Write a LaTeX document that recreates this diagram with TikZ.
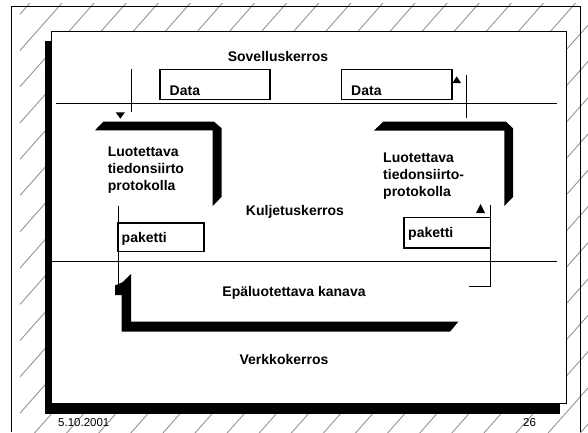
\documentclass[tikz,border=0pt]{standalone}
\usepackage{fontspec}
\setmainfont{Liberation Sans}
\tikzset{
  hatch/.style={draw=black!42, line width=0.9pt},
  rule/.style={line width=1pt},
  frameline/.style={line width=1pt},
  databox/.style={draw, line width=1.2pt},
  bar/.style={fill=black},
  tip/.style={fill=black},
  lbl/.style={font=\fontsize{14}{17}\selectfont\bfseries, inner sep=0pt},
  foot/.style={font=\fontsize{11.5}{13}\selectfont, inner sep=0pt}
}
\begin{document}
\begin{tikzpicture}[x=1pt,y=-1pt]
\useasboundingbox (0,0) rectangle (588,432);
% hatching of the background
\begin{scope}
  \clip (20,3) rectangle (588,432);
  \foreach \k in {-2,...,29}{
    \draw[hatch] ({61.7+32.1*\k+50},{3.3-56.5}) -- ++(-500,565);
  }
\end{scope}
% outer frame
\draw[frameline] (11,432) -- (11,6.7) -- (580,6.7) -- (580,432);
% shadow and slide box
\fill[black] (45,40.7) rectangle (51.7,413.5);
\fill[black] (45,403) rectangle (560,413.5);
\draw[rule, fill=white] (51.7,31.7) rectangle (566,403.3);
% layer separators
\draw[rule] (55.5,103.7) -- (557,103.7);
\draw[rule] (51.7,261.7) -- (557,261.7);
% data boxes
\draw[databox] (160,69.3) rectangle (270,99.3);
\draw[databox] (341.6,69.3) rectangle (452,99.3);
% packet boxes
\draw[databox] (118,223) rectangle (204,251.7);
\draw[databox] (404,217.5) rectangle (490.7,248);
% 3D bars
\fill[bar] (103.3,121.7) -- (214,121.7) -- (221.7,128.3) -- (221.7,196.7) -- (212.7,206) -- (212.7,130.3) -- (95,130.3) -- cycle;
\fill[bar] (383.3,121.7) -- (506,121.7) -- (513,128.3) -- (513,197) -- (504.3,206) -- (504.3,130.5) -- (374,130.5) -- cycle;
\fill[bar] (121.7,283) -- (131,274) -- (131,321.7) -- (458.3,321.7) -- (450,331.7) -- (121.7,331.7) -- cycle;
% connectors
\coordinate (a1) at (131.7,69.3);
\coordinate (a2) at (131.7,112);
\draw[rule] (a1) -- (a2);
\fill[tip] (115.7,112.3) -- (125,112.3) -- (120.3,118.6) -- cycle;
\coordinate (b1) at (118,206);
\coordinate (b2) at (118,285);
\draw[rule] (b1) -- (b2);
\fill[tip] (115,285.5) -- (122,282.5) -- (122,295) -- (115,295) -- cycle;
\coordinate (c1) at (466,75);
\coordinate (c2) at (466,118.3);
\draw[rule] (c1) -- (c2);
\fill[tip] (452.5,83) -- (461,83) -- (456.7,76.3) -- cycle;
\coordinate (d1) at (469,286);
\coordinate (d2) at (490.7,286);
\coordinate (d3) at (490.7,205);
\draw[rule] (d1) -- (d2) -- (d3);
\fill[tip] (476,213) -- (485,213) -- (480.5,204) -- cycle;
% texts
\node[lbl, anchor=base] (sov) at (278,61.5) {Sovelluskerros};
\node[lbl, anchor=base west] (data1) at (169.5,95) {Data};
\node[lbl, anchor=base west] (data2) at (351,95) {Data};
\node[lbl, anchor=north west, align=left] (lp) at (107.6,147) {Luotettava\\tiedonsiirto\\protokolla};
\node[lbl, anchor=north west, align=left] (rp) at (383,153) {Luotettava\\tiedonsiirto-\\protokolla};
\node[lbl, anchor=base] (kul) at (295,215) {Kuljetuskerros};
\node[lbl, anchor=base west] (pak1) at (121.5,242.8) {paketti};
\node[lbl, anchor=base west] (pak2) at (408,237.8) {paketti};
\node[lbl, anchor=base] (epa) at (294,296) {Epäluotettava kanava};
\node[lbl, anchor=base] (verk) at (284,364) {Verkkokerros};
\node[foot, anchor=base west] (date) at (58,426) {5.10.2001};
\node[foot, anchor=base west] (pg) at (523,426) {26};
\end{tikzpicture}
\end{document}
